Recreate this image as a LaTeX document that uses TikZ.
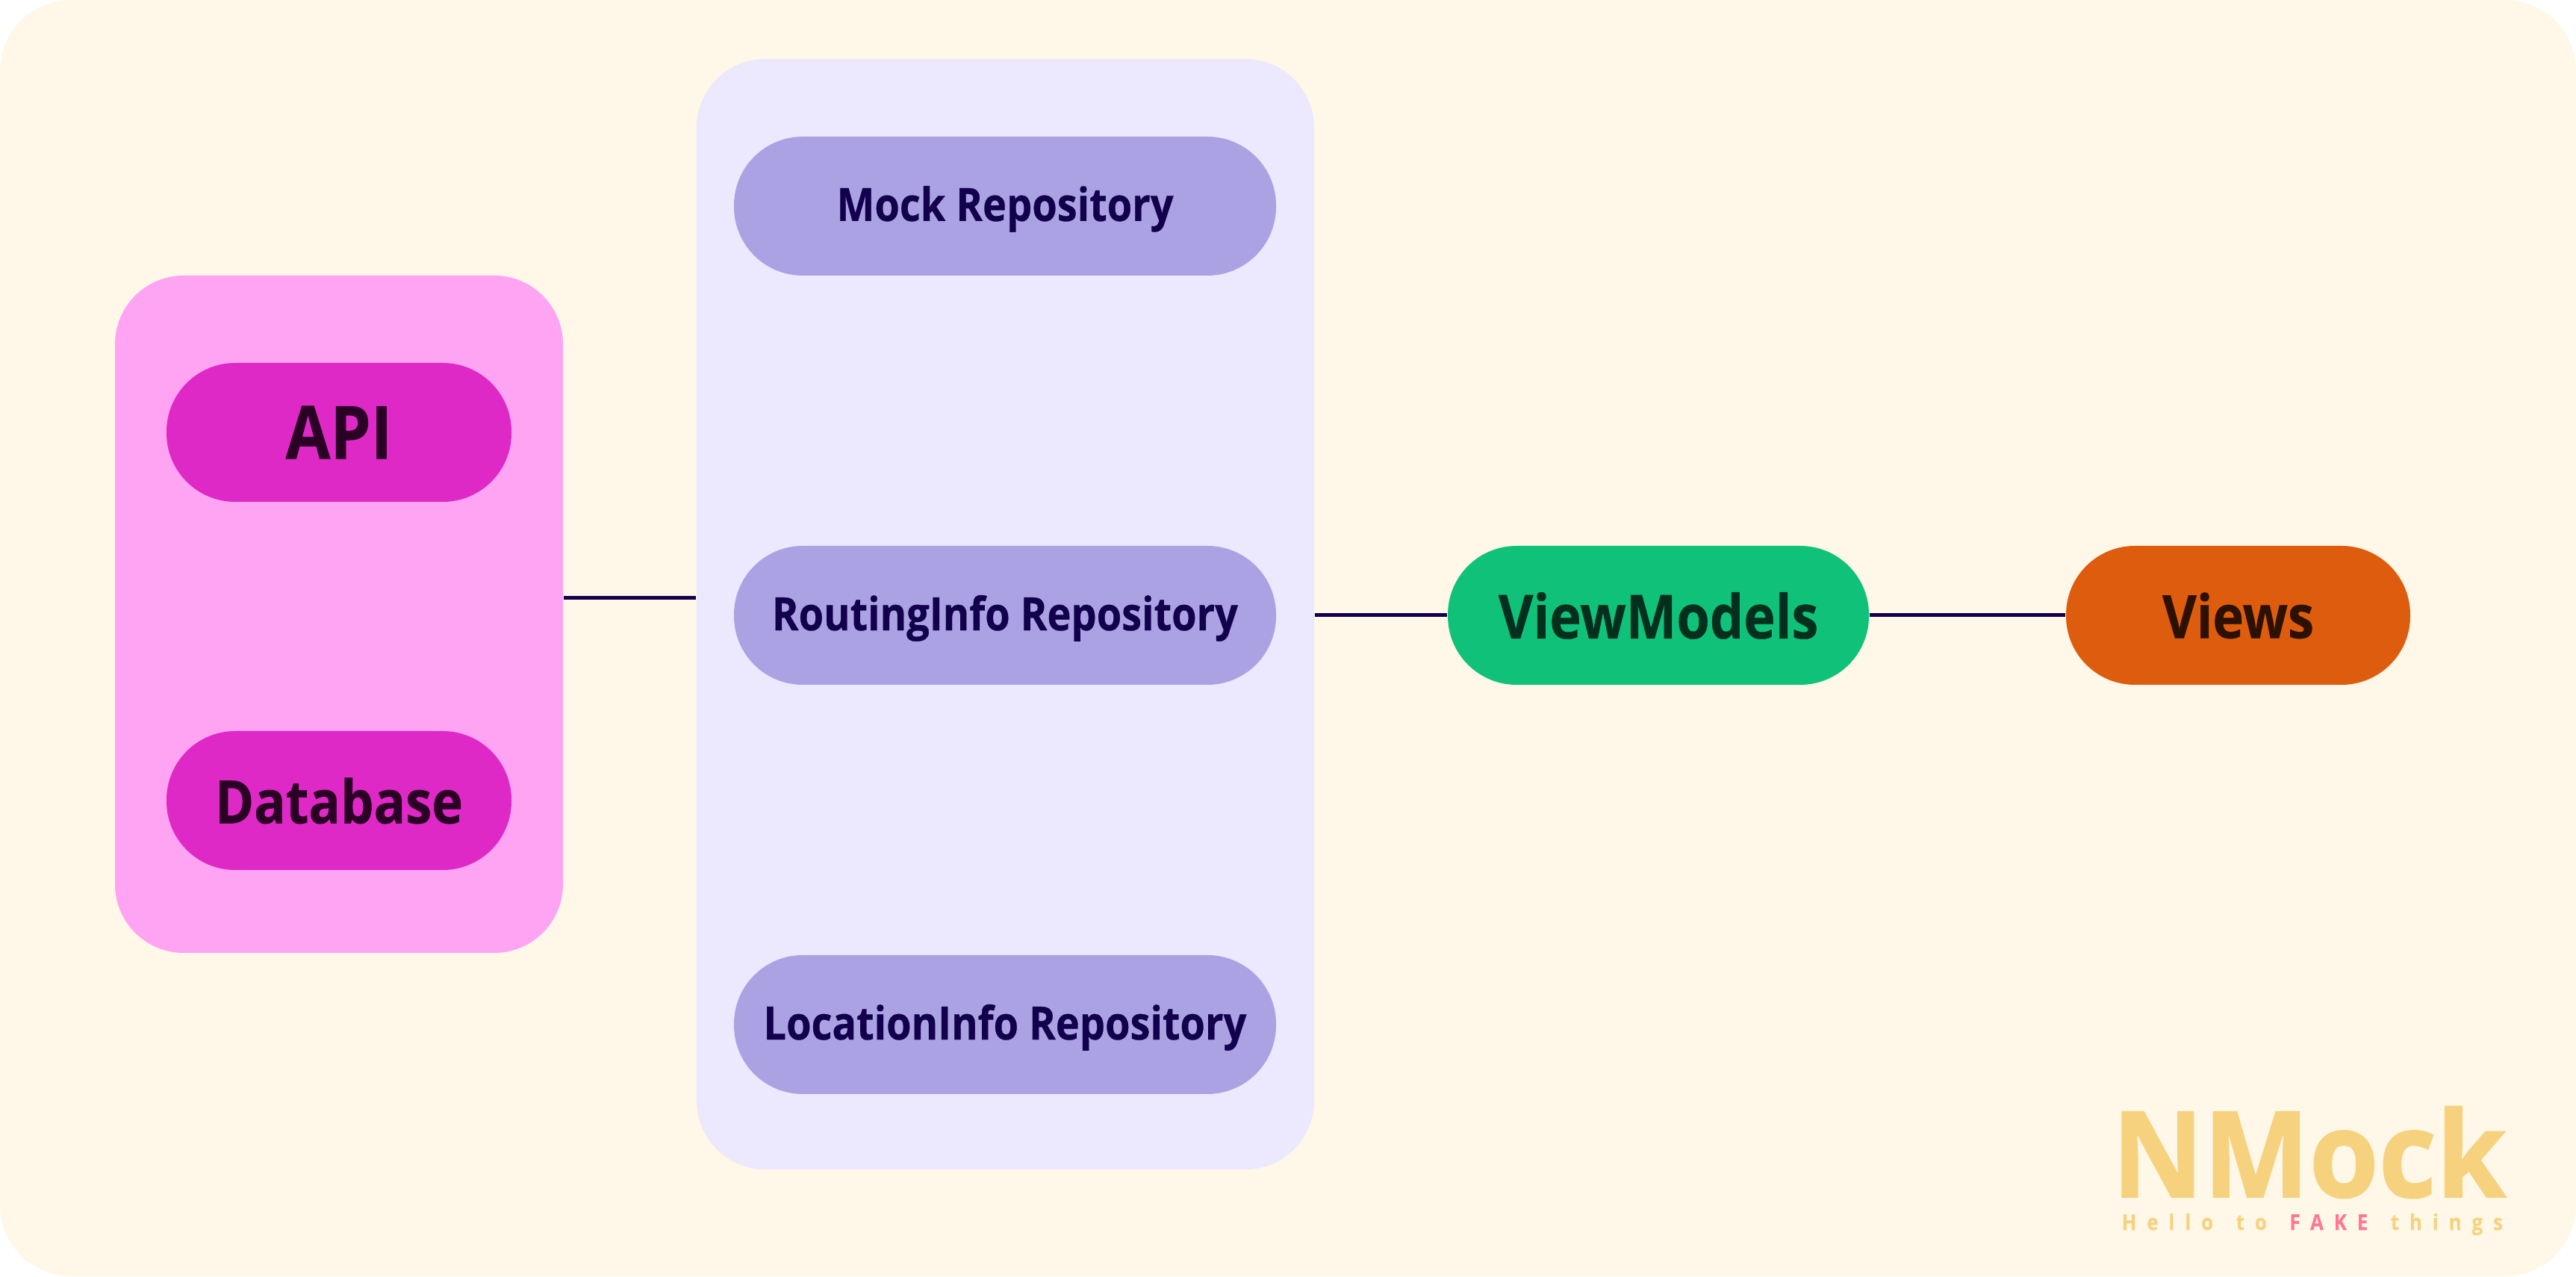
\documentclass[tikz,border=0pt]{standalone}
\usepackage{fontspec}
\setmainfont{Open Sans}[FakeStretch=0.88,BoldFeatures={FakeBold=0.5}]
\newfontfamily\logofont{Open Sans}[FakeStretch=0.94,BoldFeatures={FakeBold=1.2}]
\usepackage{tikz}
\usetikzlibrary{positioning}

\definecolor{pageback}{HTML}{FFF8E8}
\definecolor{databack}{HTML}{FFA3F3}
\definecolor{datapill}{HTML}{DF29C6}
\definecolor{datatext}{HTML}{2A0024}
\definecolor{repoback}{HTML}{ECE8FD}
\definecolor{repopill}{HTML}{ABA2E4}
\definecolor{repotext}{HTML}{12004D}
\definecolor{vmpill}{HTML}{10C279}
\definecolor{vmtext}{HTML}{032F1E}
\definecolor{viewpill}{HTML}{DE5C0E}
\definecolor{viewtext}{HTML}{2C1100}
\definecolor{logoyellow}{HTML}{F6D27F}
\definecolor{logopink}{HTML}{FF7896}

\begin{document}
\begin{tikzpicture}[>=latex]
	\tikzstyle{every node}=[font=\bfseries]
	\tikzstyle{groupbox}=[rounded corners=0.92cm, inner sep=0pt]
	\tikzstyle{pill}=[rounded corners=0.92cm, inner sep=0pt, minimum height=1.86cm, text depth=0pt]
	\tikzstyle{repopillbox}=[pill, text depth=0.07cm, fill=repopill, text=repotext, minimum width=7.26cm, font=\bfseries\fontsize{17.5}{20}\selectfont]
	\tikzstyle{datapillbox}=[pill, fill=datapill, text=datatext, minimum width=4.62cm]
	\tikzstyle{link}=[draw=repotext, line width=0.05cm]
	
	\useasboundingbox (0,0) rectangle (34.5,17.09);
	
	% Background
	\node (page) [fill=pageback, rounded corners=0.95cm, inner sep=0pt, minimum width=34.5cm, minimum height=17.09cm] at (17.25,8.545) {};
	
	% Data sources
	\node (dataGroup) [groupbox, fill=databack, minimum width=6cm, minimum height=9.07cm] at (4.54,8.865) {};
	\node (api) [datapillbox, font=\bfseries\fontsize{28}{30}\selectfont] at (4.54,11.3) {API};
	\node (database) [datapillbox, font=\bfseries\fontsize{22.8}{26}\selectfont] at (4.54,6.37) {Database};
	
	% Repositories
	\node (repoGroup) [groupbox, fill=repoback, minimum width=8.27cm, minimum height=14.87cm] at (13.465,8.865) {};
	\foreach \name/\ypos/\label in {mockRepo/14.33/Mock Repository, routingRepo/8.85/RoutingInfo Repository, locationRepo/3.37/LocationInfo Repository} {
		\node (\name) [repopillbox] at (13.46,\ypos) {\label};
	}
	
	% View side
	\node (viewModels) [pill, fill=vmpill, text=vmtext, minimum width=5.64cm, font=\bfseries\fontsize{23.2}{26}\selectfont] at (22.21,8.85) {ViewModels};
	\node (views) [pill, fill=viewpill, text=viewtext, minimum width=4.61cm, font=\bfseries\fontsize{22.8}{26}\selectfont] at (29.975,8.85) {Views};
	
	% Connectors
	\draw [link] ([yshift=0.22cm]dataGroup.east) -- ([yshift=0.22cm]repoGroup.west);
	\draw [link] (repoGroup.east |- viewModels.west) -- (viewModels.west);
	\draw [link] (viewModels.east) -- (views.west);
	
	% Logo
	\node (logo) [anchor=base west, inner sep=0pt, text=logoyellow, font=\logofont\bfseries\fontsize{45.5}{50}\selectfont] at (28.28,1.06) {NMock};
	\node (tagline) [anchor=base west, inner sep=0pt, text=logoyellow, font=\bfseries\fontsize{8.3}{10}\selectfont\addfontfeature{LetterSpace=48}] at (28.41,0.62) {Hello\hspace{0.1cm} to\hspace{0.1cm} \textcolor{logopink}{FAKE}\hspace{0.1cm} things};
\end{tikzpicture}
\end{document}
